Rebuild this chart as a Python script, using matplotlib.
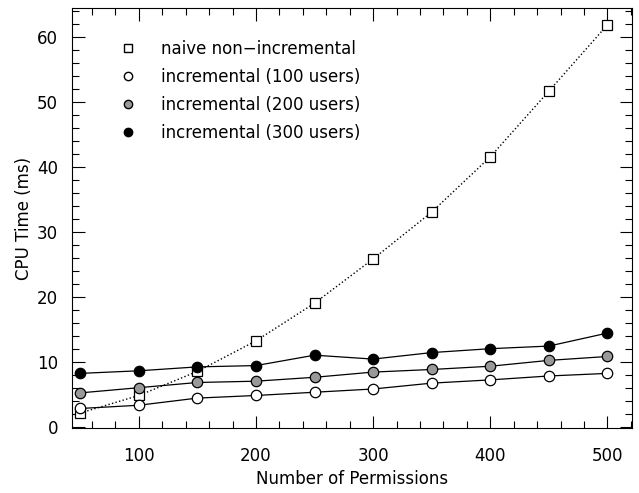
import matplotlib
matplotlib.use('Agg')
import matplotlib.pyplot as plt
from matplotlib.lines import Line2D
from matplotlib.ticker import MultipleLocator

# data
permissions = [50, 100, 150, 200, 250, 300, 350, 400, 450, 500]
naive = [2.1, 4.8, 8.5, 13.2, 19.0, 25.8, 33.0, 41.5, 51.6, 61.8]
inc_100 = [2.8, 3.3, 4.4, 4.8, 5.3, 5.8, 6.7, 7.2, 7.8, 8.2]
inc_200 = [5.2, 6.0, 6.8, 7.0, 7.6, 8.4, 8.8, 9.3, 10.2, 10.8]
inc_300 = [8.2, 8.6, 9.2, 9.4, 11.0, 10.4, 11.4, 12.0, 12.4, 14.4]
labels = ['naive non\u2212incremental', 'incremental (100 users)',
          'incremental (200 users)', 'incremental (300 users)']

plt.rcParams['font.family'] = 'DejaVu Sans'
plt.rcParams['font.size'] = 12

fig = plt.figure(figsize=(6.39, 4.93), dpi=100)
ax = fig.add_axes([72 / 639, 65 / 493, 560 / 639, 420 / 493])

ax.plot(permissions, naive, linestyle=':', color='black', linewidth=1,
        marker='s', markersize=7, markerfacecolor='white', markeredgecolor='black', markeredgewidth=0.9)
ax.plot(permissions, inc_100, '-', color='black', linewidth=0.9,
        marker='o', markersize=7.5, markerfacecolor='white', markeredgecolor='black', markeredgewidth=0.9)
ax.plot(permissions, inc_200, '-', color='black', linewidth=0.9,
        marker='o', markersize=7.5, markerfacecolor='#999999', markeredgecolor='black', markeredgewidth=0.9)
ax.plot(permissions, inc_300, '-', color='black', linewidth=0.9,
        marker='o', markersize=7.5, markerfacecolor='black', markeredgecolor='black', markeredgewidth=0.9)

ax.set_xlim(43, 521)
ax.set_ylim(-0.2, 64.4)
ax.xaxis.set_major_locator(MultipleLocator(100))
ax.xaxis.set_minor_locator(MultipleLocator(20))
ax.yaxis.set_major_locator(MultipleLocator(10))
ax.yaxis.set_minor_locator(MultipleLocator(2))
ax.tick_params(which='both', direction='in', top=True, right=True, width=0.8)
ax.tick_params(which='major', length=9)
ax.tick_params(which='minor', length=5)
ax.tick_params(axis='x', which='major', pad=14)
ax.tick_params(axis='y', which='major', pad=10)

ax.set_xlabel('Number of Permissions', labelpad=3)
ax.set_ylabel('CPU Time (ms)', labelpad=3)

# legend uses markers only, no lines
handles = [
    Line2D([], [], linestyle='none', marker='s', markersize=6, markerfacecolor='white', markeredgecolor='black'),
    Line2D([], [], linestyle='none', marker='o', markersize=6, markerfacecolor='white', markeredgecolor='black'),
    Line2D([], [], linestyle='none', marker='o', markersize=6, markerfacecolor='#999999', markeredgecolor='black'),
    Line2D([], [], linestyle='none', marker='o', markersize=6, markerfacecolor='black', markeredgecolor='black'),
]
ax.legend(handles, labels, loc='upper left', frameon=False, bbox_to_anchor=(0.058, 0.96),
          handlelength=1, handletextpad=1.5, labelspacing=0.6)

fig.savefig('out.png', dpi=100)
